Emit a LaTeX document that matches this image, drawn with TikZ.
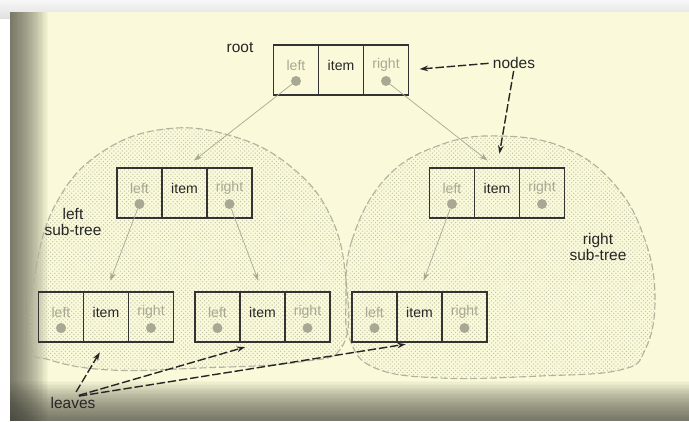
\documentclass[tikz,border=0pt]{standalone}
\usepackage{fontspec}
\setmainfont{Liberation Sans}
\usetikzlibrary{calc,patterns,positioning,arrows.meta}
\definecolor{paper}{RGB}{250,250,218}
\definecolor{shadow}{RGB}{60,60,52}
\definecolor{ptrgrey}{RGB}{168,168,148}
\definecolor{dotgrey}{RGB}{178,178,158}
\definecolor{stipple}{RGB}{196,196,172}
\tikzset{
	cell/.style={draw=black!80, line width=0.8pt, minimum width=1.125cm, minimum height=1.25cm, inner sep=0pt, outer sep=0pt},
	ptrtext/.style={text=ptrgrey, font=\fontsize{10}{12}\selectfont, inner sep=0pt},
	itemtext/.style={text=black!85, font=\fontsize{10}{12}\selectfont, inner sep=0pt},
	ptrdot/.style={circle, fill=ptrgrey, minimum size=0.25cm, inner sep=0pt},
	ptr/.style={draw=ptrgrey, line width=0.5pt, -{Stealth[length=6pt,width=4pt]}, shorten >=0.3cm},
	callout/.style={draw=black!85, line width=1pt, dash pattern=on 6pt off 2pt, -{Stealth[length=6pt,width=4pt]}},
	label/.style={text=black!85, font=\fontsize{11}{13}\selectfont, inner sep=0pt, align=center},
	blob/.style={draw=dotgrey, line width=0.8pt, dash pattern=on 5pt off 2pt, pattern=crosshatch dots, pattern color=stipple},
	veil/.style={fill=shadow, opacity=0.03}
}
% one list node: left | item | right
\def\listnode(#1)(#2,#3){%
	\node[cell] (#1I) at (#2,#3) {};
	\node[cell, left=0pt of #1I] (#1L) {};
	\node[cell, right=0pt of #1I] (#1R) {};
	\node[ptrtext] (#1Lt) at ($(#1L.center)+(0,-5)$) {left};
	\node[itemtext] (#1It) at ($(#1I.center)+(0,-5)$) {item};
	\node[ptrtext] (#1Rt) at ($(#1R.center)+(0,-5)$) {right};
	\node[ptrdot] (#1Ld) at ($(#1L.center)+(0,11)$) {};
	\node[ptrdot] (#1Rd) at ($(#1R.center)+(0,11)$) {};
}

\begin{document}
\begin{tikzpicture}[x=0.025cm, y=-0.025cm]
	%%%%% START %%%%%
	\useasboundingbox (0,0) rectangle (689,421);
	
	\fill[white] (0,0) rectangle (689,421);
	\shade[top color=white, bottom color=black!12] (0,-6) rectangle (689,18);
	\fill[paper] (10,12) rectangle (689,421);
	
	% frame shadow, left and bottom
	\foreach \i in {0,...,29}{
		\fill[veil] (10,12) rectangle ({48-1.25*\i},421);
		\fill[veil] (10,{381+1.3*\i}) rectangle (689,421);
	}
	
	% sub-trees
	\draw[blob] plot[smooth cycle, tension=0.7] coordinates {(32,345) (36,268) (58,200) (102,152) (165,129) (232,136) (290,166) (330,215) (346,280) (343,345) (300,362) (200,368) (110,370) (50,360)};
	\draw[blob] plot[smooth cycle, tension=0.7] coordinates {(346,300) (352,240) (386,178) (440,145) (500,136) (565,148) (615,185) (645,240) (655,300) (645,350) (620,370) (540,376) (440,378) (375,368) (350,340)};
	
	% list nodes
	\listnode(root)(341,70)
	\listnode(lsub)(184.5,193)
	\listnode(rsub)(497,193)
	\listnode(leafa)(106,317)
	\listnode(leafb)(262.5,317)
	\listnode(leafc)(419.5,317)
	
	% pointers
	\draw[ptr] (rootLd) -- (lsubI.north);
	\draw[ptr] (rootRd) -- (rsubI.north);
	\draw[ptr] (lsubLd) -- (leafaI.north);
	\draw[ptr] (lsubRd) -- (leafbI.north);
	\draw[ptr] (rsubLd) -- (leafcI.north);
	
	% labels
	\node[label] (rootlab) at (240,48) {root};
	\node[label] (nodeslab) at (514,63) {nodes};
	\node[label] (leaveslab) at (73,403) {leaves};
	\node[label] (lsublab) at (73,222) {left\\[-2pt]sub-tree};
	\node[label] (rsublab) at (598,247) {right\\[-2pt]sub-tree};
	
	\draw[callout, shorten <=0.1cm, shorten >=0.28cm] (nodeslab.west) -- (rootR.east);
	\draw[callout, shorten <=0.05cm, shorten >=0.36cm] (nodeslab.south) -- (rsubI.north);
	\draw[callout, shorten <=0.15cm, shorten >=0.3cm] (leaveslab.north) -- (leafaI.south);
	\draw[callout, shorten <=0.15cm, shorten >=0.45cm] (leaveslab.north) -- (leafbI.south);
	\draw[callout, shorten <=0.15cm, shorten >=0.35cm] (leaveslab.north) -- (leafcI.south);
	%%%%% END %%%%%
\end{tikzpicture}
\end{document}
